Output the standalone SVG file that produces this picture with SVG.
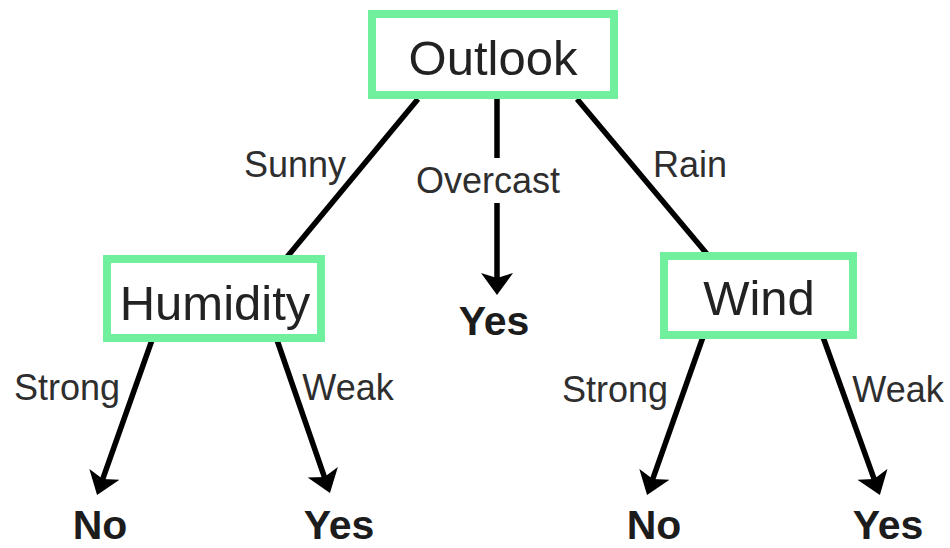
<svg xmlns="http://www.w3.org/2000/svg" width="950" height="548" viewBox="0 0 950 548">
<style>
.box{fill:#ffffff;stroke:#70f09c;stroke-width:8}
.node{font-family:"Liberation Sans",Arial,sans-serif;font-size:49px;fill:#222222;text-anchor:middle}
.lbl{font-family:"Liberation Sans",Arial,sans-serif;font-size:36px;fill:#2e2e2e}
.leaf{font-family:"Liberation Sans",Arial,sans-serif;font-size:41px;font-weight:bold;fill:#1c1c1c;text-anchor:middle}
.edge{stroke:#000000;stroke-width:5.5;fill:none}
</style>
<defs>
<marker id="arr" markerUnits="userSpaceOnUse" viewBox="0 -17 23 34" markerWidth="23" markerHeight="34" refX="12" refY="0" orient="auto">
<path d="M0,-16 L22,0 L0,16 L5,0 Z" fill="#000000"/>
</marker>
</defs>
<rect width="950" height="548" fill="#ffffff"/>
<g id="connectors">
<line class="edge" x1="418" y1="99" x2="287" y2="257"/>
<line class="edge" x1="577" y1="99" x2="707" y2="254"/>
<line class="edge" x1="497" y1="99" x2="497" y2="158"/>
<line class="edge" x1="497" y1="203" x2="497" y2="285" marker-end="url(#arr)"/>
<line class="edge" x1="152" y1="340" x2="100.4" y2="485.6" marker-end="url(#arr)"/>
<line class="edge" x1="277" y1="340" x2="326.7" y2="483.6" marker-end="url(#arr)"/>
<line class="edge" x1="703" y1="337" x2="650.4" y2="485.6" marker-end="url(#arr)"/>
<line class="edge" x1="823" y1="337" x2="876.5" y2="485.6" marker-end="url(#arr)"/>
<text class="lbl" x="295" y="177" text-anchor="middle">Sunny</text>
<text class="lbl" x="488" y="193" text-anchor="middle">Overcast</text>
<text class="lbl" x="690" y="177" text-anchor="middle">Rain</text>
<text class="lbl" x="67" y="400" text-anchor="middle">Strong</text>
<text class="lbl" x="348" y="400" text-anchor="middle">Weak</text>
<text class="lbl" x="615" y="402" text-anchor="middle">Strong</text>
<text class="lbl" x="898" y="402" text-anchor="middle">Weak</text>
</g>
<g id="outlook">
<rect class="box" x="372" y="14" width="242" height="81"/>
<text class="node" x="493" y="75">Outlook</text>
</g>
<g id="humidity">
<rect class="box" x="107" y="259" width="214" height="79"/>
<text class="node" x="215" y="320">Humidity</text>
</g>
<g id="wind">
<rect class="box" x="664" y="256" width="189" height="79"/>
<text class="node" x="759" y="315">Wind</text>
</g>
<g id="yes-overcast"><text class="leaf" x="494" y="335">Yes</text></g>
<g id="no-humidity"><text class="leaf" x="100" y="539">No</text></g>
<g id="yes-humidity"><text class="leaf" x="339" y="539">Yes</text></g>
<g id="no-wind"><text class="leaf" x="654" y="539">No</text></g>
<g id="yes-wind"><text class="leaf" x="888" y="539">Yes</text></g>
</svg>
